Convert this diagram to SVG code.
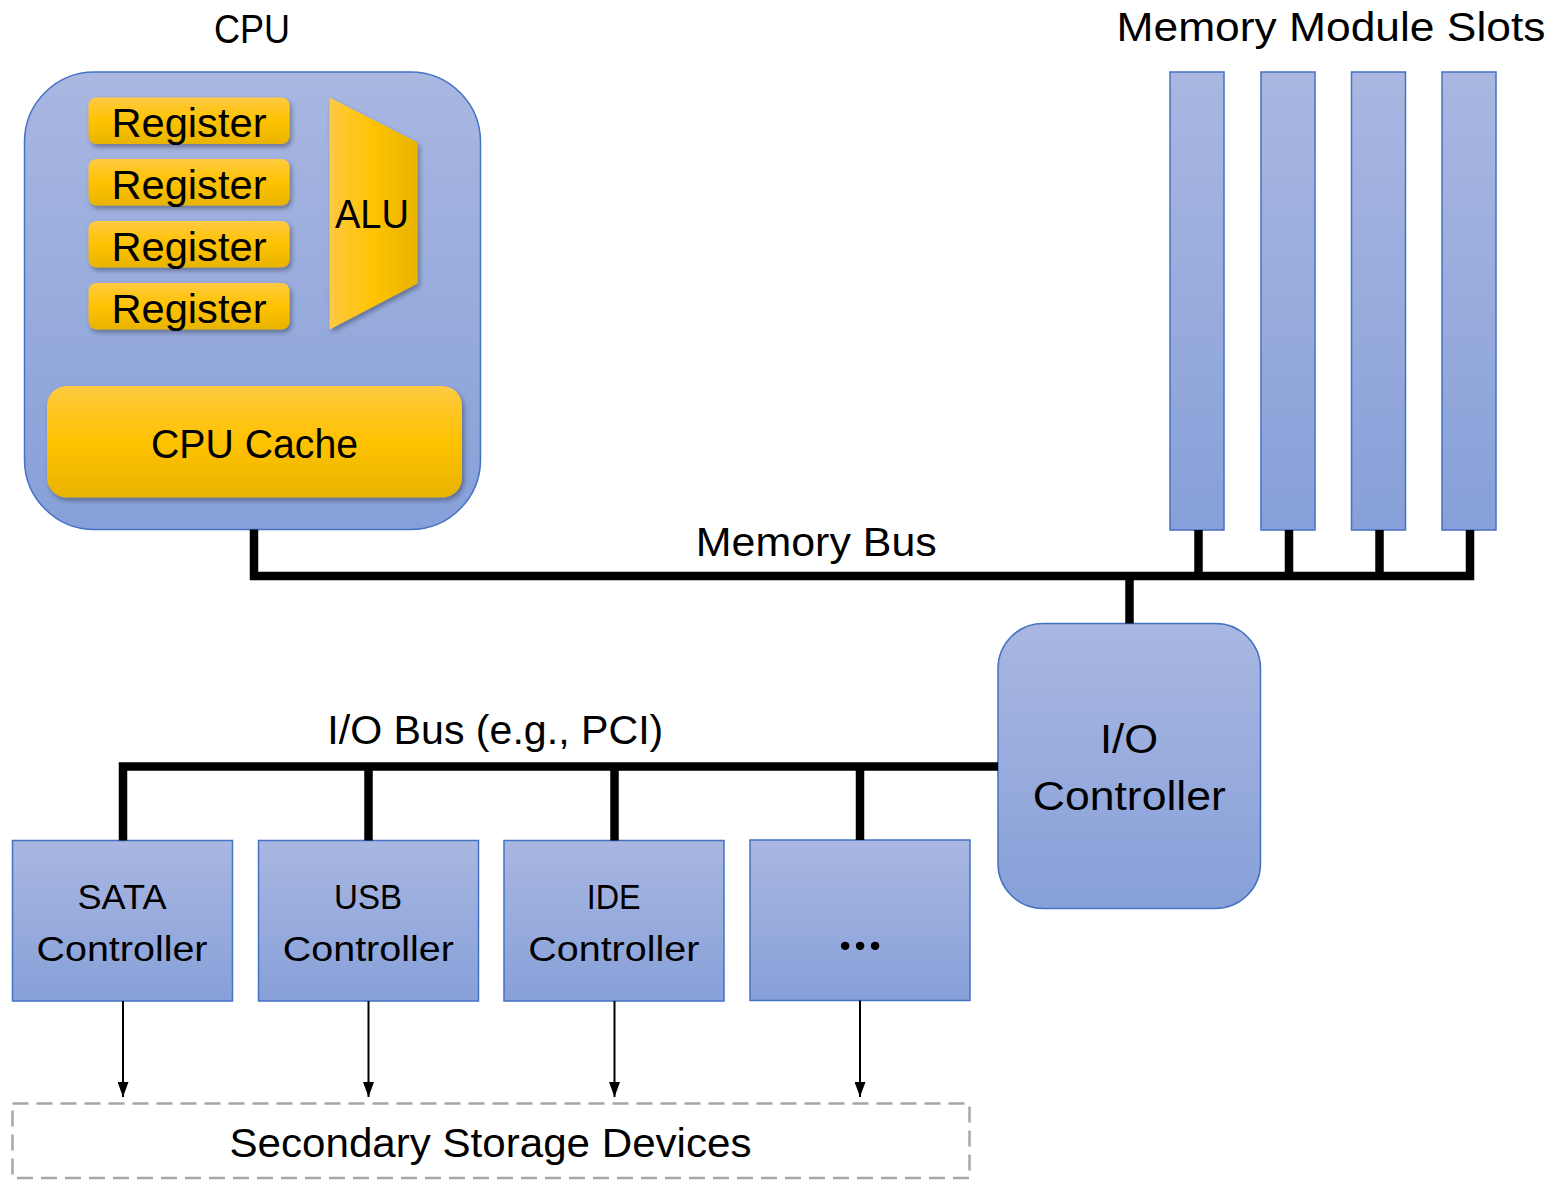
<svg xmlns="http://www.w3.org/2000/svg" width="1558" height="1180" viewBox="0 0 1558 1180">
<style>
  text { font-family: "Liberation Sans", Arial, sans-serif; fill: #000; text-anchor: middle; }
  .t41 { font-size: 41px; }
  .t35 { font-size: 35px; }
  .blue { fill: url(#blueGrad); stroke: #4472C4; stroke-width: 1.5; }
  .gold { fill: url(#goldGrad); filter: url(#shadow); }
  .bus { fill: none; stroke: #000; stroke-width: 8.5; stroke-linecap: butt; stroke-linejoin: miter; }
  .arrow { fill: none; stroke: #000; stroke-width: 2; marker-end: url(#arr); }
</style>
<defs>
  <linearGradient id="blueGrad" x1="0" y1="0" x2="0" y2="1">
    <stop offset="0" stop-color="#A9B7E1"/>
    <stop offset="1" stop-color="#87A0D9"/>
  </linearGradient>
  <linearGradient id="goldGrad" x1="0" y1="0" x2="0" y2="1">
    <stop offset="0" stop-color="#FFCA42"/>
    <stop offset="0.5" stop-color="#FFC200"/>
    <stop offset="1" stop-color="#E8B400"/>
  </linearGradient>
  <linearGradient id="aluGrad" x1="0" y1="0" x2="1" y2="0">
    <stop offset="0" stop-color="#FFC942"/>
    <stop offset="0.5" stop-color="#FFC300"/>
    <stop offset="1" stop-color="#E8B400"/>
  </linearGradient>
  <filter id="shadow" x="-10%" y="-20%" width="130%" height="150%">
    <feDropShadow dx="2" dy="3" stdDeviation="2.5" flood-color="#000" flood-opacity="0.35"/>
  </filter>
  <marker id="arr" markerUnits="userSpaceOnUse" markerWidth="15" markerHeight="11" refX="15" refY="5.5" orient="auto">
    <path d="M0,0 L15,5.5 L0,11 Z" fill="#000"/>
  </marker>
</defs>

<!-- Titles -->
<g id="title-cpu"><text class="t41" x="252" y="43" textLength="76" lengthAdjust="spacingAndGlyphs">CPU</text></g>
<g id="title-memory-slots"><text class="t41" x="1331" y="41" textLength="429" lengthAdjust="spacingAndGlyphs">Memory Module Slots</text></g>

<!-- CPU -->
<g id="cpu">
  <rect class="blue" x="24.5" y="72" width="456" height="457.5" rx="70" ry="70"/>
</g>
<g id="register-1">
  <rect class="gold" x="88.5" y="97.5" width="201" height="46.5" rx="8"/>
  <text class="t41" x="189" y="137.3" textLength="155" lengthAdjust="spacingAndGlyphs">Register</text>
</g>
<g id="register-2">
  <rect class="gold" x="88.5" y="159" width="201" height="46.5" rx="8"/>
  <text class="t41" x="189" y="199" textLength="155" lengthAdjust="spacingAndGlyphs">Register</text>
</g>
<g id="register-3">
  <rect class="gold" x="88.5" y="221" width="201" height="46.5" rx="8"/>
  <text class="t41" x="189" y="261" textLength="155" lengthAdjust="spacingAndGlyphs">Register</text>
</g>
<g id="register-4">
  <rect class="gold" x="88.5" y="283" width="201" height="46.5" rx="8"/>
  <text class="t41" x="189" y="322.7" textLength="155" lengthAdjust="spacingAndGlyphs">Register</text>
</g>
<g id="alu">
  <polygon points="329.5,97.5 417.5,142.5 417.5,283.5 329.5,329.5" fill="url(#aluGrad)" filter="url(#shadow)"/>
  <text class="t41" x="372" y="228" textLength="74" lengthAdjust="spacingAndGlyphs">ALU</text>
</g>
<g id="cpu-cache">
  <rect class="gold" x="47" y="386" width="415" height="111.5" rx="20"/>
  <text class="t41" x="254.5" y="457.7" textLength="207" lengthAdjust="spacingAndGlyphs">CPU Cache</text>
</g>

<!-- Memory slots -->
<g id="slot-1"><rect class="blue" x="1170" y="72" width="54" height="458"/></g>
<g id="slot-2"><rect class="blue" x="1261" y="72" width="54" height="458"/></g>
<g id="slot-3"><rect class="blue" x="1351.5" y="72" width="54" height="458"/></g>
<g id="slot-4"><rect class="blue" x="1442" y="72" width="54" height="458"/></g>

<!-- I/O controller -->
<g id="io-controller">
  <rect class="blue" x="998" y="623.5" width="262.5" height="285" rx="45"/>
  <text class="t41" x="1129" y="753" textLength="58" lengthAdjust="spacingAndGlyphs">I/O</text>
  <text class="t41" x="1129.3" y="810" textLength="193" lengthAdjust="spacingAndGlyphs">Controller</text>
</g>

<!-- Device controllers -->
<g id="sata-controller">
  <rect class="blue" x="12.5" y="840.5" width="220" height="160.5"/>
  <text class="t35" x="122" y="909.3" textLength="89" lengthAdjust="spacingAndGlyphs">SATA</text>
  <text class="t35" x="122" y="960.7" textLength="171" lengthAdjust="spacingAndGlyphs">Controller</text>
</g>
<g id="usb-controller">
  <rect class="blue" x="258.5" y="840.5" width="220" height="160.5"/>
  <text class="t35" x="368" y="909.3" textLength="68" lengthAdjust="spacingAndGlyphs">USB</text>
  <text class="t35" x="368.3" y="960.7" textLength="171" lengthAdjust="spacingAndGlyphs">Controller</text>
</g>
<g id="ide-controller">
  <rect class="blue" x="504" y="840.5" width="220" height="160.5"/>
  <text class="t35" x="613.7" y="909.3" textLength="54" lengthAdjust="spacingAndGlyphs">IDE</text>
  <text class="t35" x="613.8" y="960.7" textLength="171" lengthAdjust="spacingAndGlyphs">Controller</text>
</g>
<g id="other-controller">
  <rect class="blue" x="750" y="840" width="220" height="160.5"/>
  <text x="860" y="950" textLength="47" lengthAdjust="spacing" style="font-family:Lato,'Liberation Sans',sans-serif;font-size:56px;font-weight:bold">…</text>
</g>

<!-- Secondary storage -->
<g id="secondary-storage">
  <rect x="12.5" y="1103.5" width="957" height="74.5" fill="none" stroke="#A6A6A6" stroke-width="2.5" stroke-dasharray="16 8"/>
  <text class="t41" x="490.5" y="1157" textLength="522" lengthAdjust="spacingAndGlyphs">Secondary Storage Devices</text>
</g>

<!-- Connectors -->
<g id="connectors">
  <path class="bus" d="M254 529.5 V576 H1470 V530"/>
  <path class="bus" d="M1198.5 530 V576"/>
  <path class="bus" d="M1289 530 V576"/>
  <path class="bus" d="M1379.5 530 V576"/>
  <path class="bus" d="M1129.5 576 V623.5"/>
  <path class="bus" d="M123 840.5 V766.5 H998"/>
  <path class="bus" d="M368.5 766.5 V840.5"/>
  <path class="bus" d="M614.5 766.5 V840.5"/>
  <path class="bus" d="M860 766.5 V840"/>
  <line class="arrow" x1="123" y1="1001" x2="123" y2="1097"/>
  <line class="arrow" x1="368.5" y1="1001" x2="368.5" y2="1097"/>
  <line class="arrow" x1="614.5" y1="1001" x2="614.5" y2="1097"/>
  <line class="arrow" x1="860" y1="1000.5" x2="860" y2="1097"/>
</g>

<!-- Bus labels -->
<g id="label-memory-bus"><text class="t41" x="816.3" y="555.7" textLength="241" lengthAdjust="spacingAndGlyphs">Memory Bus</text></g>
<g id="label-io-bus"><text class="t41" x="495.3" y="744" textLength="336" lengthAdjust="spacingAndGlyphs">I/O Bus (e.g., PCI)</text></g>
</svg>
